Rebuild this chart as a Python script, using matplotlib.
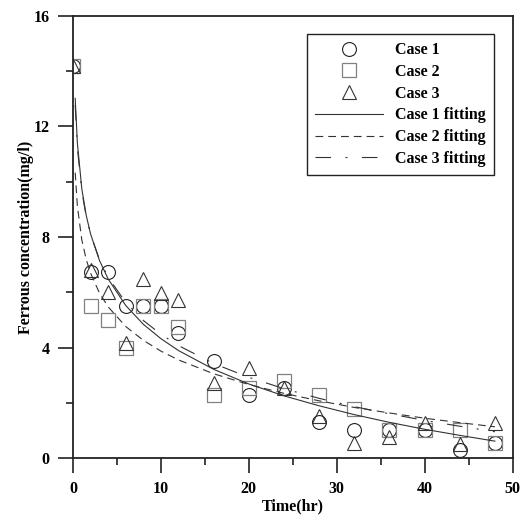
import matplotlib
matplotlib.use("Agg")
import matplotlib.pyplot as plt
from matplotlib.ticker import MultipleLocator

# measured ferrous concentration (mg/l) at each sampling time (hr)
time_hr = [0, 2, 4, 6, 8, 10, 12, 16, 20, 24, 28, 32, 36, 40, 44, 48]
case1 = [14.2, 6.75, 6.75, 5.5, 5.5, 5.5, 4.54, 3.51, 2.28, 2.53, 1.3, 1.01, 1.01, 1.03, 0.3, 0.53]
case2 = [14.2, 5.5, 5.0, 4.0, 5.5, 5.5, 4.76, 2.28, 2.52, 2.78, 2.27, 1.76, 1.01, 1.01, 1.03, 0.53]
case3 = [14.2, 6.79, 6.0, 4.18, 6.47, 5.99, 5.72, 2.73, 3.25, 2.55, 1.53, 0.53, 0.77, 1.25, 0.51, 1.26]

# fitted curves
fit_t = [0.25, 0.5, 1, 1.5, 2, 3, 4, 6, 8, 10, 12, 16, 20, 24, 28, 32, 36, 40, 44, 48]
fit1 = [13.02, 11.39, 9.75, 8.79, 8.11, 7.16, 6.48, 5.52, 4.84, 4.32, 3.89, 3.21,
        2.68, 2.25, 1.89, 1.57, 1.29, 1.04, 0.82, 0.61]
fit2 = [10.33, 9.11, 7.9, 7.19, 6.69, 5.98, 5.47, 4.76, 4.26, 3.87, 3.55, 3.05,
        2.66, 2.34, 2.07, 1.83, 1.63, 1.44, 1.28, 1.13]
fit3 = [12.78, 11.22, 9.66, 8.75, 8.10, 7.19, 6.54, 5.63, 4.98, 4.48, 4.07, 3.42,
        2.92, 2.51, 2.16, 1.86, 1.60, 1.36, 1.15, 0.95]

plt.rcParams['font.family'] = ['Liberation Serif', 'DejaVu Serif']
plt.rcParams['font.weight'] = 'bold'
plt.rcParams['font.size'] = 11.5

fig = plt.figure(figsize=(5.25, 5.22), dpi=100)
ax = fig.add_axes([73 / 525, 1 - 458 / 522, 439.5 / 525, 442 / 522])

ax.plot(time_hr, case1, 'o', ms=10, mfc='none', mec='#222222', mew=0.8, label='Case 1')
ax.plot(time_hr, case2, 's', ms=10, mfc='none', mec='#808080', mew=0.9, label='Case 2')
ax.plot(time_hr, case3, '^', ms=10, mfc='none', mec='#333333', mew=0.8, label='Case 3')
ax.plot(fit_t, fit1, '-', color='#333333', lw=0.8, label='Case 1 fitting')
ax.plot(fit_t, fit2, color='#333333', lw=0.8, ls=(0, (7, 4.5)), label='Case 2 fitting')
ax.plot(fit_t, fit3, color='#333333', lw=0.8, ls=(0, (14, 13, 1.8, 13)), label='Case 3 fitting')

ax.set_xlim(0, 50)
ax.set_ylim(0, 16)
ax.xaxis.set_major_locator(MultipleLocator(10))
ax.xaxis.set_minor_locator(MultipleLocator(5))
ax.yaxis.set_major_locator(MultipleLocator(4))
ax.yaxis.set_minor_locator(MultipleLocator(2))
ax.tick_params(which='major', direction='out', length=10.8, width=1.2, color='#222222', pad=6)
ax.tick_params(which='minor', direction='out', length=5, width=1.2, color='#222222')
for sp in ax.spines.values():
    sp.set_linewidth(1.3)
    sp.set_color('#222222')

ax.set_xlabel('Time(hr)', fontweight='bold', labelpad=1)
ax.set_ylabel('Ferrous concentration(mg/l)', fontweight='bold', labelpad=0)

leg = ax.legend(loc='upper right', bbox_to_anchor=(0.958, 0.959), borderaxespad=0,
                handlelength=4.2, handletextpad=0.8, labelspacing=0.36, borderpad=0.5,
                fancybox=False, edgecolor='#222222', framealpha=1, numpoints=1)
leg.get_frame().set_linewidth(1.0)

plt.savefig('out.png', dpi=100)
